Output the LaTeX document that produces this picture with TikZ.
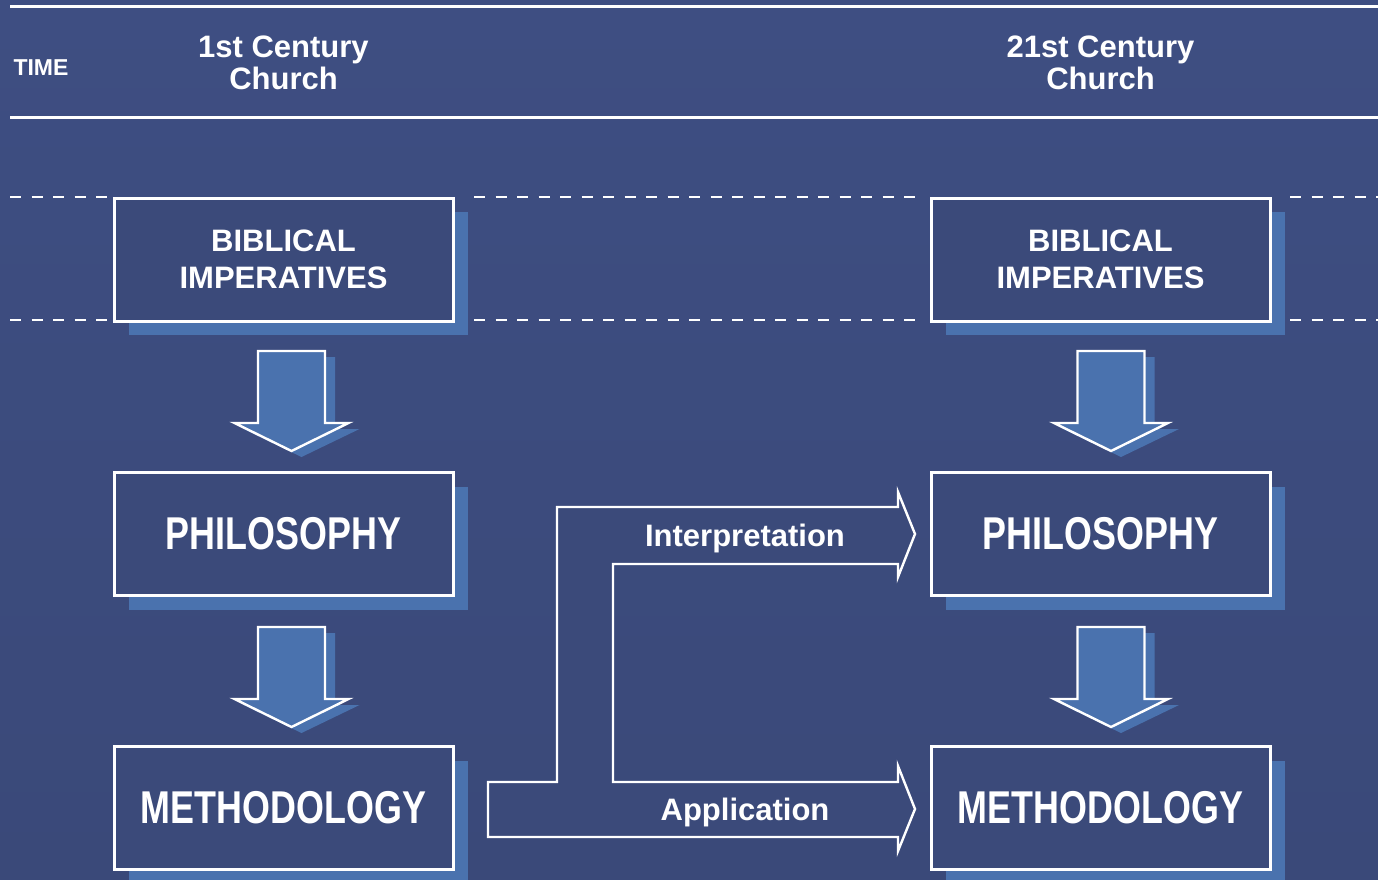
\documentclass[tikz,border=0pt]{standalone}
\usepackage{fontspec}
\setmainfont{Liberation Sans}
\usetikzlibrary{calc,shadows}
\definecolor{bgtop}{RGB}{62,78,130}
\definecolor{bgmid}{RGB}{68,86,141}
\definecolor{bgbot}{RGB}{58,73,121}
\definecolor{boxc}{RGB}{59,74,122}
\definecolor{shadowc}{RGB}{74,114,174}
\newcommand{\blockdown}[3]{%
  \begin{scope}[shift={(#1,#2)}]
    \coordinate (#3) at (0,0);
    \fill[shadowc] (-23.5,6) -- (43.5,6) -- (43.5,78) -- (68,78) -- (10,106) -- (-48,78) -- (-23.5,78) -- cycle;
    \draw[blockarr] (-33.5,0) -- (33.5,0) -- (33.5,72) -- (57,72) -- (0,100) -- (-57,72) -- (-33.5,72) -- cycle;
  \end{scope}}
\begin{document}
\begin{tikzpicture}[x=1pt,y=-1pt,
  hline/.style={white, line width=3pt},
  dline/.style={white, line width=2.2pt, dash pattern=on 11pt off 10.5pt},
  box/.style={draw=white, line width=3pt, fill=boxc, minimum width=339pt, minimum height=123pt,
    inner sep=0pt, text=white, align=center,
    drop shadow={shadow xshift=15pt, shadow yshift=-14pt, fill=shadowc, opacity=1}},
  bibfont/.style={font=\fontsize{31}{37}\selectfont\bfseries},
  bigfont/.style={font=\fontsize{46}{46}\selectfont\bfseries},
  headfont/.style={text=white, align=center, font=\fontsize{31}{32}\selectfont\bfseries},
  blockarr/.style={draw=white, line width=2.4pt, fill=shadowc, line join=miter},
  flowarr/.style={draw=white, line width=2.4pt, fill=boxc, line join=miter},
  flowlabel/.style={text=white, font=\fontsize{31}{31}\selectfont\bfseries}
]
\shade[top color=bgtop, middle color=bgmid, bottom color=bgbot] (0,0) rectangle (1378,880);
\useasboundingbox (0,0) rectangle (1378,880);

% header
\draw[hline] (10,7) -- (1378,7);
\draw[hline] (10,118) -- (1378,118);
\node[text=white, anchor=west, font=\fontsize{23}{23}\selectfont\bfseries] (time) at (10,68) {TIME};
\node[headfont] (c1) at (283.5,63) {1st Century\\Church};
\node[headfont] (c21) at (1100.5,63) {21st Century\\Church};

% dashed lines
\foreach \yy in {197,320} {
  \draw[dline] (10,\yy) -- (110,\yy);
  \draw[dline] (474,\yy) -- (918,\yy);
  \draw[dline] (1290,\yy) -- (1378,\yy);
}

% boxes
\node[box, bibfont] (bi1) at (283.5,259.5) {BIBLICAL\\IMPERATIVES};
\node[box, bigfont] (ph1) at (283.5,534) {\raisebox{-2pt}{\scalebox{0.78}[1]{PHILOSOPHY}}};
\node[box, bigfont] (me1) at (283.5,808) {\raisebox{-2pt}{\scalebox{0.78}[1]{METHODOLOGY}}};
\node[box, bibfont] (bi2) at (1100.5,259.5) {BIBLICAL\\IMPERATIVES};
\node[box, bigfont] (ph2) at (1100.5,534) {\raisebox{-2pt}{\scalebox{0.78}[1]{PHILOSOPHY}}};
\node[box, bigfont] (me2) at (1100.5,808) {\raisebox{-2pt}{\scalebox{0.78}[1]{METHODOLOGY}}};

% block arrows down
\blockdown{291.5}{351}{a1}
\blockdown{291.5}{627}{a2}
\blockdown{1111}{351}{a3}
\blockdown{1111}{627}{a4}

% interpretation / application arrow
\draw[flowarr] (557,507) -- (898,507) -- (898,492) -- (915,534) -- (898,577) -- (898,564)
  -- (613,564) -- (613,782) -- (898,782) -- (898,766) -- (915,809) -- (898,851) -- (898,837)
  -- (488,837) -- (488,782) -- (557,782) -- cycle;
\node[flowlabel] (interp) at (745,538) {Interpretation};
\node[flowlabel] (appl) at (745,812) {Application};
\end{tikzpicture}
\end{document}
